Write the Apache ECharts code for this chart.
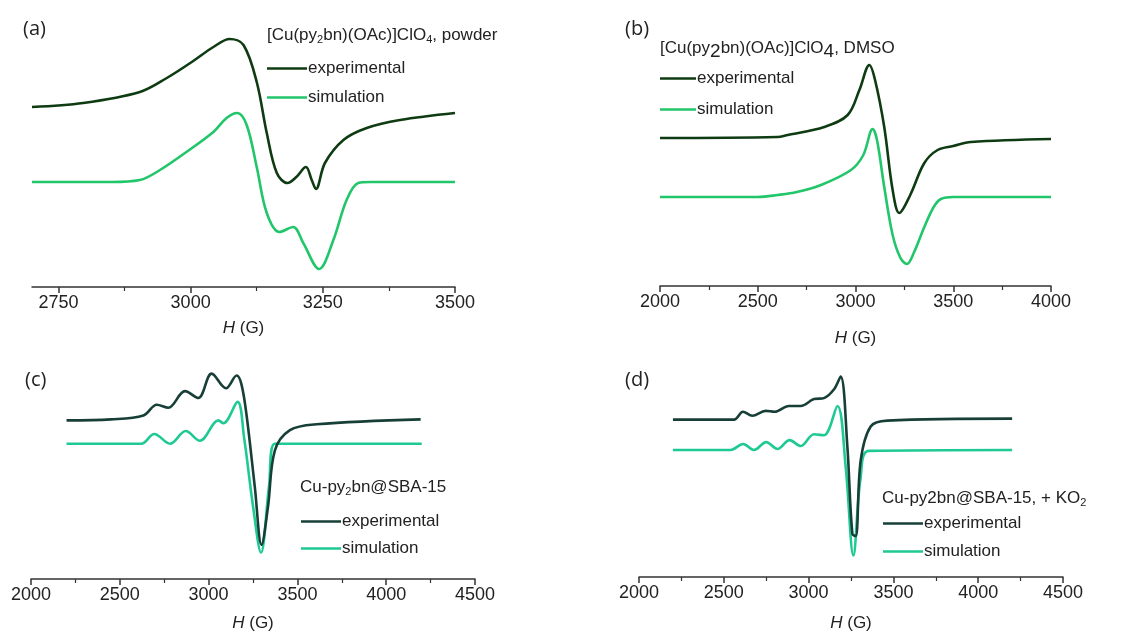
<!DOCTYPE html>
<html>
  <head>
    <meta charset="UTF-8">
    <title>EPR spectra</title>
    <script src="https://cdn.jsdelivr.net/npm/echarts@6/dist/echarts.min.js"></script>
  </head>
  <body style="margin:0">
    <div id="box" style="width:1143px;height:633px"></div>
    <script>
        // [field (G), signal (arb. units)]
        var expA = [[2700,180],[2797,184],[2904,195],[2955,209],[3005,226],[3043,240],[3074,248],[3100,242],[3125,205],[3144,154],[3163,114],[3183,104],[3200,110],[3218,120],[3229,107],[3237,98],[3254,124],[3289,147],[3333,159],[3396,167],[3500,174]];
        var simA = [[2700,105],[2850,105],[2904,107],[2942,117],[2992,135],[3043,155],[3068,169],[3088,174],[3106,162],[3125,120],[3144,74],[3168,55],[3194,60],[3213,44],[3243,18],[3270,47],[3295,87],[3317,104],[3340,105],[3500,105]];
        var expB = [[2000,148],[2600,149],[2653,151],[2840,159],[2960,171],[3020,196],[3071,221],[3100,206],[3147,159],[3190,96],[3224,73],[3280,91],[3352,123],[3420,136],[3500,140],[3590,144],[4000,147]];
        var simB = [[2000,89],[2500,89],[2602,91],[2700,94],[2823,101],[2977,116],[3040,131],[3088,157],[3110,146],[3147,99],[3190,51],[3230,28],[3263,22],[3300,34],[3352,59],[3400,79],[3437,87],[3500,89],[4000,89]];
        var expC = [[2200,163],[2450,164],[2633,168],[2708,179],[2773,176],[2867,193],[2942,186],[3017,211],[3098,196],[3158,209],[3185,200],[3214,168],[3260,95],[3298,35],[3335,75],[3373,132],[3458,153],[3608,159],[4194,164]];
        var simC = [[2200,139],[2620,139],[2694,149],[2783,139],[2871,152],[2951,142],[3055,163],[3083,160],[3163,182],[3200,145],[3250,75],[3295,27],[3340,95],[3373,139],[4200,139]];
        var expD = [[2200,161],[2560,161],[2613,169],[2668,165],[2747,170],[2800,169],[2884,175],[2953,175],[3032,182],[3091,183],[3150,192],[3189,205],[3228,135],[3258,44],[3278,42],[3307,119],[3366,154],[3464,160],[4200,162]];
        var simD = [[2200,130],[2540,130],[2613,136],[2678,130],[2750,138],[2816,131],[2888,140],[2953,134],[3032,146],[3091,145],[3170,175],[3219,112],[3264,22],[3307,102],[3356,129],[4200,130]];

        // panel (a) starts at 2700 but is labelled every 250 from 2750
        var ticksA = [2750, 3000, 3250, 3500];
        var minorTicksA = [2875, 3125, 3375];

        var xRanges = [[2700, 3500, 250], [2000, 4000, 500], [2000, 4500, 500], [2000, 4500, 500]];
        var yMax = [267, 266, 225, 222];
        var panelTags = ['(a)', '(b)', '(c)', '(d)'];
        var panelTitles = [
            '[Cu(py{s|2}bn)(OAc)]ClO{s|4}, powder',
            '[Cu(py{b|2}bn)(OAc)]ClO{b|4}, DMSO',
            'Cu-py{s|2}bn@SBA-15',
            'Cu-py2bn@SBA-15, + KO{s|2}'
        ];

        var font = '"Liberation Sans", Arial, sans-serif';
        var darkGreen = '#0f3b12', lightGreen = '#22c66a';
        var darkTeal = '#173f38', lightTeal = '#1fc993';

        var grids = [
            {left: 32, right: 688, top: 20, bottom: 346},
            {left: 660, right: 92, top: 20, bottom: 347},
            {left: 31, right: 668, top: 360, bottom: 48},
            {left: 639, right: 80, top: 360, bottom: 51}
        ];
        var nameGaps = [33, 44, 36, 38];

        var xAxes = xRanges.map(function (r, i) {
            var ax = {
                type: 'value', gridIndex: i, min: r[0], max: r[1], interval: r[2],
                name: '{i|H} (G)', nameLocation: 'middle', nameGap: nameGaps[i],
                nameTextStyle: {fontFamily: font, fontSize: 17, color: '#222',
                    rich: {i: {fontStyle: 'italic', fontFamily: font, fontSize: 17, color: '#222'}}},
                axisLine: {lineStyle: {color: '#333', width: 1.5}},
                axisTick: {length: 6, lineStyle: {color: '#333', width: 1.5}},
                minorTick: {show: true, splitNumber: 2, length: 4, lineStyle: {color: '#333', width: 1.2}},
                axisLabel: {fontFamily: font, fontSize: 18, color: '#222', margin: 7,
                    formatter: function (v) { return String(v); }},
                splitLine: {show: false}
            };
            if (i === 0) {
                delete ax.interval;
                ax.minorTick = {show: false};
                ax.axisTick.customValues = ticksA;
                ax.axisLabel.customValues = ticksA;
            }
            return ax;
        });
        // short minor ticks for panel (a), drawn by a second axis on the same grid
        xAxes.push({
            type: 'value', gridIndex: 0, min: 2700, max: 3500, position: 'bottom',
            axisLine: {show: false}, axisLabel: {show: false}, splitLine: {show: false},
            axisTick: {length: 4, customValues: minorTicksA, lineStyle: {color: '#333', width: 1.2}}
        });
        var yAxes = yMax.map(function (m, i) {
            return {type: 'value', gridIndex: i, min: 0, max: m, show: false};
        });

        function line(name, data, i, color) {
            return {
                name: name, type: 'line', xAxisIndex: i, yAxisIndex: i, data: data,
                symbol: 'none', smooth: 0.35, lineStyle: {color: color, width: 2.6},
                itemStyle: {color: color}, z: name.indexOf('exp') === 0 ? 3 : 2
            };
        }

        var legendPos = [
            {left: 262, top: 55, itemGap: 12, itemWidth: 40},
            {left: 655, top: 65, itemGap: 14, itemWidth: 36},
            {left: 296, top: 508, itemGap: 10, itemWidth: 40},
            {left: 878, top: 510, itemGap: 11, itemWidth: 40}
        ];
        var keys = ['a', 'b', 'c', 'd'];
        var legends = legendPos.map(function (p, i) {
            return {
                left: p.left, top: p.top, orient: 'vertical', itemGap: p.itemGap,
                itemWidth: p.itemWidth, itemHeight: 14,
                data: [{name: 'exp ' + keys[i], icon: 'path://M0,6h40v2.6h-40z'},
                       {name: 'sim ' + keys[i], icon: 'path://M0,6h40v2.6h-40z'}],
                formatter: function (n) { return n.indexOf('exp') === 0 ? 'experimental' : 'simulation'; },
                textStyle: {fontFamily: font, fontSize: 17, color: '#222', padding: [0, 0, 0, -4]},
                selectedMode: false
            };
        });

        var titlePos = [[262, 20], [655, 30], [295, 472], [877, 483]];
        var tagPos = [[18, 14], [620, 14], [20, 365], [620, 365]];
        var titles = [];
        panelTitles.forEach(function (t, i) {
            titles.push({
                text: t, left: titlePos[i][0], top: titlePos[i][1],
                textStyle: {fontFamily: font, fontSize: 17, fontWeight: 'normal', color: '#222',
                    rich: {
                        s: {fontFamily: font, fontSize: 11, color: '#222', padding: [9, 0, 0, 0]},
                        b: {fontFamily: font, fontSize: 19, color: '#222', padding: [7, 0, 0, 0]}
                    }}
            });
            titles.push({
                text: panelTags[i], left: tagPos[i][0], top: tagPos[i][1],
                textStyle: {fontFamily: '"Open Sans", sans-serif', fontSize: 20, fontWeight: 'normal', color: '#222'}
            });
        });

        var myChart = echarts.init(document.getElementById('box'));
        myChart.setOption({
            backgroundColor: '#fff',
            animation: false,
            title: titles,
            legend: legends,
            grid: grids,
            xAxis: xAxes,
            yAxis: yAxes,
            series: [
                line('exp a', expA, 0, darkGreen), line('sim a', simA, 0, lightGreen),
                line('exp b', expB, 1, darkGreen), line('sim b', simB, 1, lightGreen),
                line('exp c', expC, 2, darkTeal), line('sim c', simC, 2, lightTeal),
                line('exp d', expD, 3, darkTeal), line('sim d', simD, 3, lightTeal)
            ]
        });
    </script>
  </body>
</html>
